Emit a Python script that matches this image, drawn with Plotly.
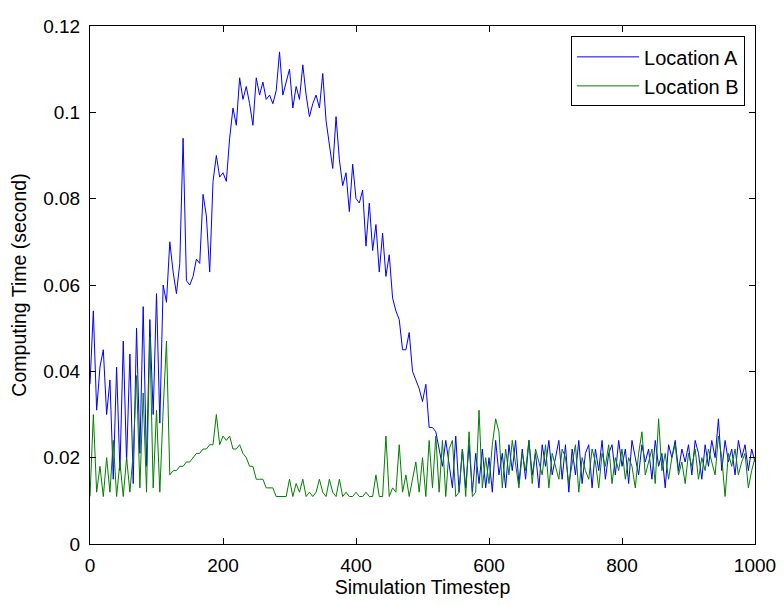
import plotly.graph_objects as go

# timesteps sampled every 5 steps (0..1000)
timesteps = list(range(0, 1001, 5))

# Location A computing time (s)
location_a = [
    0.037, 0.054, 0.031, 0.041, 0.045, 0.030, 0.038, 0.015, 0.041, 0.017,
    0.047, 0.019, 0.044, 0.014, 0.050, 0.021, 0.055, 0.018, 0.052, 0.030,
    0.058, 0.028, 0.060, 0.056, 0.070, 0.063, 0.058, 0.065, 0.094, 0.061,
    0.060, 0.062, 0.066, 0.065, 0.081, 0.076, 0.063, 0.084, 0.090, 0.085,
    0.086, 0.084, 0.094, 0.101, 0.097, 0.108, 0.103, 0.106, 0.102, 0.097,
    0.108, 0.104, 0.107, 0.103, 0.104, 0.102, 0.105, 0.114, 0.104, 0.107,
    0.110, 0.101, 0.106, 0.103, 0.111, 0.104, 0.099, 0.102, 0.104, 0.101,
    0.109, 0.098, 0.093, 0.087, 0.099, 0.089, 0.083, 0.086, 0.077, 0.088,
    0.080, 0.079, 0.082, 0.069, 0.079, 0.068, 0.074, 0.063, 0.072, 0.062,
    0.067, 0.057, 0.054, 0.052, 0.045, 0.045, 0.049, 0.040, 0.038, 0.036,
    0.033, 0.037, 0.027, 0.027, 0.026, 0.022, 0.018, 0.024, 0.018, 0.013,
    0.025, 0.012, 0.022, 0.013, 0.023, 0.012, 0.021, 0.014, 0.022, 0.013,
    0.020, 0.012, 0.024, 0.016, 0.021, 0.013, 0.023, 0.017, 0.024, 0.014,
    0.022, 0.015, 0.024, 0.016, 0.021, 0.013, 0.023, 0.018, 0.024, 0.016,
    0.020, 0.024, 0.015, 0.023, 0.012, 0.022, 0.016, 0.024, 0.014, 0.021,
    0.023, 0.013, 0.022, 0.017, 0.024, 0.015, 0.021, 0.023, 0.016, 0.024,
    0.018, 0.022, 0.014, 0.024, 0.020, 0.016, 0.023, 0.019, 0.022, 0.015,
    0.024, 0.018, 0.021, 0.013, 0.023, 0.020, 0.024, 0.017, 0.022, 0.019,
    0.023, 0.016, 0.024, 0.021, 0.015, 0.023, 0.018, 0.024, 0.020, 0.029,
    0.017, 0.024, 0.019, 0.022, 0.016, 0.024, 0.020, 0.023, 0.017, 0.022,
    0.019,
]

# Location B computing time (s)
location_b = [
    0.011, 0.030, 0.012, 0.018, 0.011, 0.020, 0.012, 0.024, 0.011, 0.019,
    0.011, 0.020, 0.012, 0.021, 0.039, 0.013, 0.035, 0.012, 0.048, 0.013,
    0.031, 0.012, 0.031, 0.047, 0.016, 0.017, 0.017, 0.018, 0.018, 0.019,
    0.019, 0.020, 0.021, 0.021, 0.022, 0.022, 0.023, 0.023, 0.030, 0.023,
    0.025, 0.024, 0.025, 0.022, 0.022, 0.023, 0.021, 0.020, 0.018, 0.018,
    0.015, 0.015, 0.015, 0.013, 0.013, 0.013, 0.011, 0.011, 0.011, 0.011,
    0.015, 0.011, 0.014, 0.012, 0.015, 0.011, 0.012, 0.011, 0.012, 0.015,
    0.012, 0.011, 0.015, 0.012, 0.011, 0.015, 0.011, 0.012, 0.011, 0.011,
    0.012, 0.011, 0.011, 0.012, 0.011, 0.011, 0.016, 0.011, 0.011, 0.025,
    0.011, 0.013, 0.012, 0.023, 0.012, 0.016, 0.011, 0.015, 0.019, 0.012,
    0.020, 0.011, 0.024, 0.013, 0.025, 0.012, 0.024, 0.011, 0.022, 0.024,
    0.011, 0.012, 0.022, 0.011, 0.026, 0.011, 0.012, 0.031, 0.013, 0.020,
    0.014, 0.023, 0.029, 0.026, 0.013, 0.022, 0.016, 0.024, 0.019, 0.013,
    0.021, 0.017, 0.024, 0.014, 0.022, 0.019, 0.016, 0.023, 0.013, 0.021,
    0.018, 0.015, 0.022, 0.020, 0.014, 0.019, 0.023, 0.012, 0.020, 0.017,
    0.015, 0.022, 0.019, 0.013, 0.021, 0.018, 0.023, 0.014, 0.020, 0.017,
    0.022, 0.015, 0.020, 0.018, 0.013, 0.021, 0.026, 0.016, 0.019, 0.022,
    0.014, 0.029, 0.017, 0.021, 0.015, 0.020, 0.023, 0.016, 0.019, 0.014,
    0.021, 0.018, 0.022, 0.015, 0.020, 0.017, 0.022, 0.019, 0.016, 0.025,
    0.020, 0.011, 0.021, 0.018, 0.022, 0.016, 0.019, 0.021, 0.013, 0.017,
    0.020,
]

y_ticks = [0, 0.02, 0.04, 0.06, 0.08, 0.1, 0.12]
y_labels = ["0", "0.02", "0.04", "0.06", "0.08", "0.1", "0.12"]
x_ticks = [0, 200, 400, 600, 800, 1000]

fig = go.Figure()

fig.add_trace(go.Scatter(
    x=timesteps, y=location_a, mode="lines", name="Location A",
    line=dict(color="#0000FF", width=1),
))
fig.add_trace(go.Scatter(
    x=timesteps, y=location_b, mode="lines", name="Location B",
    line=dict(color="#008000", width=1),
))

axis_style = dict(
    showline=True, linecolor="black", linewidth=1, mirror="ticks",
    ticks="inside", ticklen=6, tickcolor="black", showgrid=False,
    zeroline=False, tickfont=dict(size=19, color="black"),
    ticklabeloverflow="allow",
)

fig.update_xaxes(
    range=[0, 1000], tickvals=x_ticks, ticklabelstandoff=4,
    title=dict(text="Simulation Timestep", font=dict(size=19.5, color="black"), standoff=2),
    **axis_style,
)
fig.update_yaxes(
    range=[0, 0.12], tickvals=y_ticks, ticktext=y_labels, ticklabelstandoff=5,
    title=dict(text="Computing Time (second)", font=dict(size=19.5, color="black"), standoff=12),
    **axis_style,
)

# page body has an 8px margin, so the figure is sized and offset for it
fig.update_layout(
    width=776, height=597,
    margin=dict(l=82, r=25, t=8, b=61),
    paper_bgcolor="white", plot_bgcolor="white",
    font=dict(family="Liberation Sans, Arial, sans-serif", color="black"),
    legend=dict(
        x=0.985, y=0.98, xanchor="right", yanchor="top",
        bgcolor="white", bordercolor="black", borderwidth=1,
        font=dict(size=20), itemwidth=62, tracegroupgap=0,
    ),
)

fig.write_html("out.html")
